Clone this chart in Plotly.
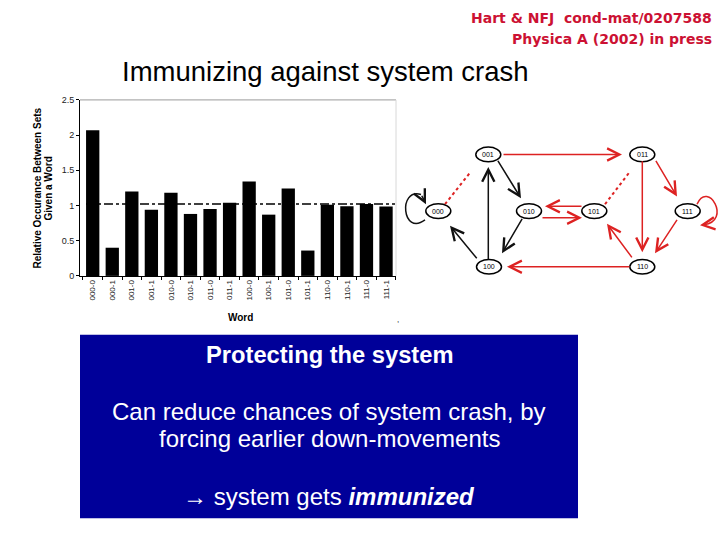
import plotly.graph_objects as go

W, H = 720, 540

# ---------------- chart data ----------------
words = ["000-0", "000-1", "001-0", "001-1", "010-0", "010-1", "011-0", "011-1",
         "100-0", "100-1", "101-0", "101-1", "110-0", "110-1", "111-0", "111-1"]
occurrence = [2.07, 0.40, 1.20, 0.94, 1.18, 0.88, 0.95, 1.04,
              1.34, 0.87, 1.24, 0.36, 1.01, 0.99, 1.02, 0.985]
ref_level = 1.02
y_ticks = [0, 0.5, 1, 1.5, 2, 2.5]
y_tick_labels = ["0", "0.5", "1", "1.5", "2", "2.5"]

# ---------------- state diagram (pixel layout) ----------------
node_names = ["000", "001", "010", "011", "100", "101", "110", "111"]
node_x = [438.3, 488.3, 529.0, 642.3, 489.0, 594.3, 642.3, 687.7]
node_y = [210.0, 152.3, 210.0, 152.3, 266.7, 210.0, 266.7, 210.0]

BLACK = "#111111"
RED = "#dd2222"
# (tail_x, tail_y, head_x, head_y, colour, dotted)
edges = [
    (497, 158, 521, 197, BLACK, False),     # 001 -> 010
    (523, 217, 502, 253, BLACK, False),     # 010 -> 100
    (488.3, 259, 488.3, 165, BLACK, False), # 100 -> 001
    (478, 259, 450, 225, BLACK, False),     # 100 -> 000
    (502, 152.3, 622, 152.3, RED, False),   # 001 -> 011
    (655, 158, 677, 195, RED, False),       # 011 -> 111
    (642.3, 159.5, 642.3, 252, RED, False), # 011 -> 110
    (678, 218, 655, 253, RED, False),       # 111 -> 110
    (633, 258, 607, 223, RED, False),       # 110 -> 101
    (631, 266.7, 507, 266.7, RED, False),   # 110 -> 100
    (583, 205, 545, 205, RED, False),       # 101 -> 010
    (541, 216.7, 582, 216.7, RED, False),   # 010 -> 101
    (445, 203, 473, 167, RED, True),        # 000 -> 001
    (605, 203, 632, 167, RED, True),        # 101 -> 011
]

FONT = "Liberation Sans, Arial, sans-serif"


def px(x):
    return x / W


def py(y):
    return 1 - y / H


fig = go.Figure()
fig.add_trace(go.Bar(x=words, y=occurrence, marker=dict(color="black", line=dict(width=0)),
                     showlegend=False, hoverinfo="x+y"))

shapes = []
annotations = []

# reference level line
shapes.append(dict(type="line", xref="paper", yref="y", x0=px(86), x1=px(395),
                   y0=ref_level, y1=ref_level, line=dict(color="black", width=1.5, dash="dashdot"),
                   layer="above"))
# top / right frame lines of the chart
shapes.append(dict(type="line", xref="paper", yref="paper", x0=px(80), x1=px(396),
                   y0=py(96.7), y1=py(96.7), line=dict(color="#9a9a9a", width=1)))
shapes.append(dict(type="line", xref="paper", yref="paper", x0=px(396), x1=px(396),
                   y0=py(96.7), y1=py(276), line=dict(color="#d8d8d8", width=1)))

# blue box
shapes.append(dict(type="rect", xref="paper", yref="paper", x0=px(80), x1=px(578),
                   y0=py(523), y1=py(336), fillcolor="#000099", line=dict(width=0), layer="below"))


def text(t, x, y, size, color="black", bold=False, xanchor="center", angle=0, family=FONT):
    if bold:
        t = "<b>" + t + "</b>"
    annotations.append(dict(text=t, x=px(x), y=py(y), xref="paper", yref="paper",
                            showarrow=False, xanchor=xanchor, yanchor="middle",
                            textangle=angle, font=dict(size=size, color=color, family=family)))


def arrow(tx, ty, hx, hy, color):
    annotations.append(dict(text="", x=px(hx), y=py(hy), xref="paper", yref="paper",
                            ax=tx - hx, ay=ty - hy, axref="pixel", ayref="pixel",
                            showarrow=True, arrowhead=5, arrowsize=1.6, arrowwidth=1.5,
                            arrowcolor=color, standoff=0, startstandoff=0))


# header
text("Hart &amp; NFJ  cond-mat/0207588", 714, 13, 14, "#cc1133", True, "right",
     family="DejaVu Sans, Verdana, sans-serif")
text("Physica A (2002) in press", 714, 35, 14, "#cc1133", True, "right",
     family="DejaVu Sans, Verdana, sans-serif")
# title
text("Immunizing against system crash", 325, 68, 27.5)

# axis titles
text("Relative Occurance Between Sets", 38, 187, 10, bold=True, angle=-90)
text("Given a Word", 49, 187, 10, bold=True, angle=-90)
text("Word", 240, 318, 10, bold=True)
text(",", 398, 320, 8)

# box text
text("Protecting the system", 329, 357, 23.7, "white", True)
text("Can reduce chances of system crash, by", 329, 414, 24, "white")
text("forcing earlier down-movements", 329, 442, 24, "white")
text("\u2192 system gets <b><i>immunized</i></b>", 329, 501, 24, "white")

# diagram edges
for tx, ty, hx, hy, col, dotted in edges:
    if dotted:
        dx, dy = hx - tx, hy - ty
        L = (dx * dx + dy * dy) ** 0.5
        ux, uy = dx / L, dy / L
        ex, ey = hx - ux * 5, hy - uy * 5
        shapes.append(dict(type="line", xref="paper", yref="paper", x0=px(tx), y0=py(ty),
                           x1=px(ex), y1=py(ey), line=dict(color=col, width=2, dash="dot")))
        arrow(hx - ux * 4, hy - uy * 4, hx, hy, col)
    else:
        arrow(tx, ty, hx, hy, col)


def path(pts):
    (x0, y0), (c1x, c1y), (c2x, c2y), (x1, y1) = pts
    return "M {},{} C {},{} {},{} {},{}".format(px(x0), py(y0), px(c1x), py(c1y),
                                                  px(c2x), py(c2y), px(x1), py(y1))


# self loops
shapes.append(dict(type="path", xref="paper", yref="paper",
                   path=path([(425, 219), (402, 236), (398, 186), (421, 193)]),
                   line=dict(color=BLACK, width=1.5)))
arrow(421, 193, 426, 203, BLACK)
shapes.append(dict(type="path", xref="paper", yref="paper",
                   path=path([(697, 203), (708, 178), (732, 220), (704, 224)]),
                   line=dict(color=RED, width=1.5)))
arrow(707, 223.5, 700, 224.5, RED)

# nodes
for name, nx, ny in zip(node_names, node_x, node_y):
    shapes.append(dict(type="circle", xref="paper", yref="paper",
                       x0=px(nx - 12.5), x1=px(nx + 12.5), y0=py(ny + 7.5), y1=py(ny - 7.5),
                       fillcolor="white", line=dict(color="black", width=1.5), layer="above"))
    text(name, nx, ny, 7)

fig.update_layout(
    width=W, height=H, margin=dict(l=0, r=0, t=0, b=0),
    paper_bgcolor="white", plot_bgcolor="white",
    bargap=0.32, showlegend=False,
    font=dict(family=FONT, color="black"),
    xaxis=dict(domain=[px(80), px(396)], range=[-0.65, 15.51], type="category",
               tickangle=-90, tickfont=dict(size=8, color="#222"),
               showline=True, linecolor="black", linewidth=1, ticks="outside",
               ticklen=3, tickcolor="black", tickson="boundaries", showgrid=False,
               fixedrange=True),
    yaxis=dict(domain=[py(276), py(96.7)], range=[0, 2.5], tickvals=y_ticks,
               ticktext=y_tick_labels, tickfont=dict(size=9, color="#222"),
               showline=True, linecolor="black", linewidth=1, ticks="outside",
               ticklen=3, tickcolor="black", showgrid=False, zeroline=False,
               fixedrange=True),
    shapes=shapes, annotations=annotations,
)

fig.write_html("out.html", config={"displayModeBar": False},
               post_script="document.body.style.margin='0';document.body.style.overflow='hidden';")
